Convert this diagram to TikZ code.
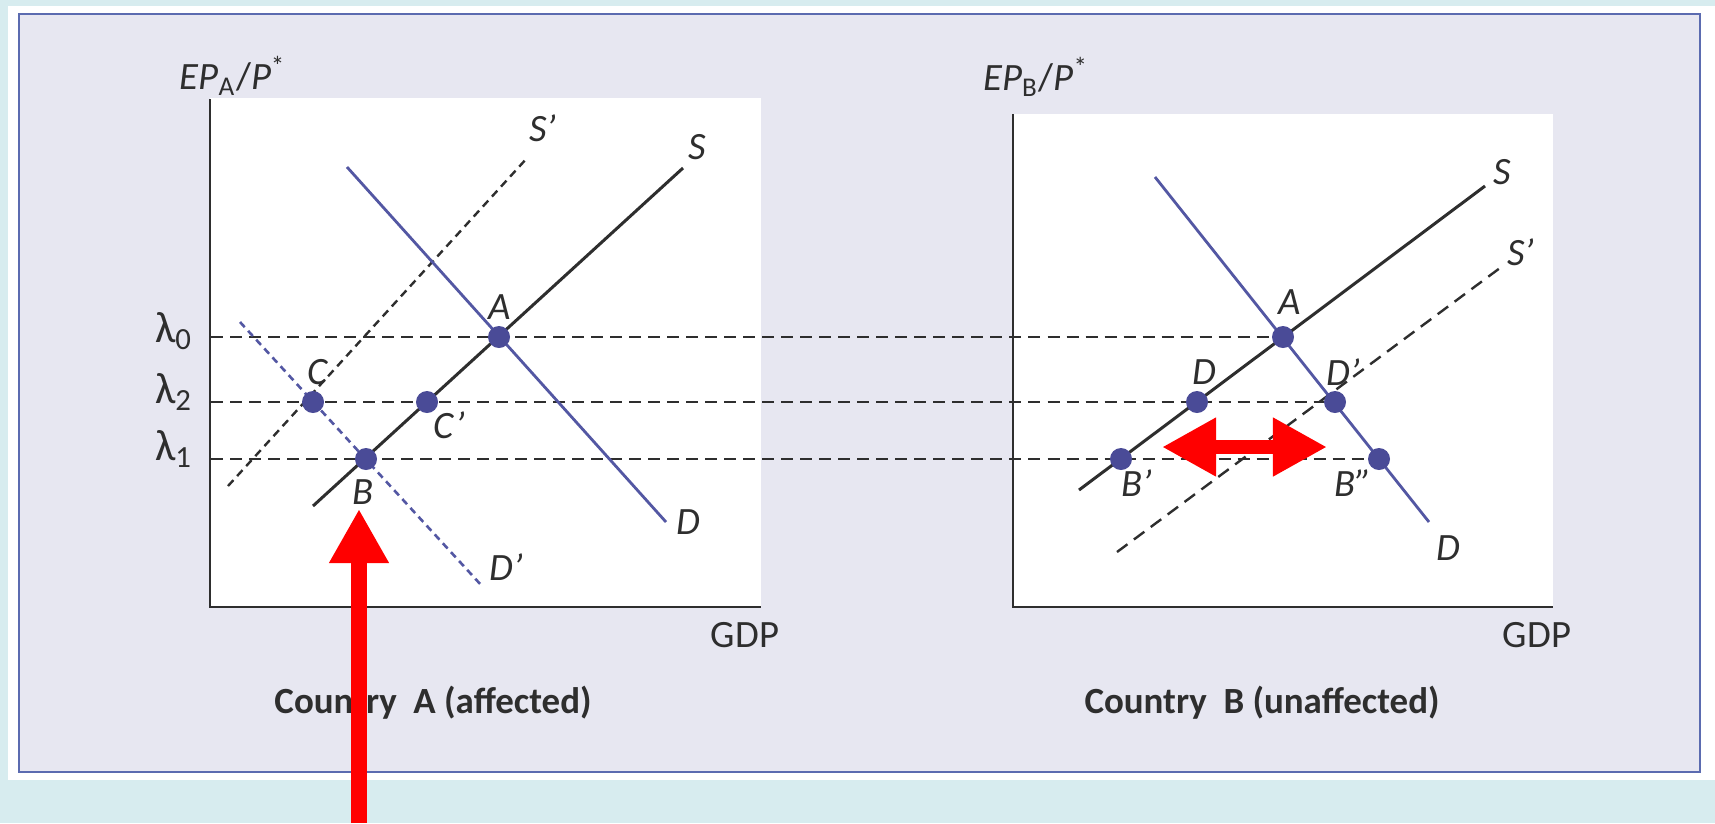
\documentclass[tikz,border=0pt]{standalone}
\usepackage{fontspec}
\setmainfont{Carlito}
\usepackage{xcolor}
\definecolor{pagebg}{HTML}{D7ECEF}
\definecolor{panelbg}{HTML}{E7E7F1}
\definecolor{frameblue}{HTML}{5B6BB0}
\definecolor{curveblue}{HTML}{5357A3}
\definecolor{dotblue}{HTML}{4A4B97}
\definecolor{ink}{HTML}{2E2E2E}
\definecolor{shock}{HTML}{FF0000}
\usepackage{tikz}
\usetikzlibrary{arrows.meta, positioning, calc}

\begin{document}
\begin{tikzpicture}[x=0.01cm, y=-0.01cm,
  axisline/.style={draw=ink, line width=0.024cm},
  supply/.style={draw=ink, line width=0.03cm},
  supplyshift/.style={draw=ink, line width=0.024cm, dash pattern=on 0.08cm off 0.055cm},
  demand/.style={draw=curveblue, line width=0.028cm},
  demandshift/.style={draw=curveblue, line width=0.026cm, dash pattern=on 0.07cm off 0.05cm},
  guide/.style={draw=ink, line width=0.024cm, dash pattern=on 0.12cm off 0.07cm},
  eqdot/.style={circle, fill=dotblue, minimum size=0.22cm, inner sep=0pt},
  ptlabel/.style={font=\fontsize{11}{13}\selectfont\itshape, text=ink, inner sep=0pt},
  axislabel/.style={font=\fontsize{11}{13}\selectfont, text=ink, inner sep=0pt},
  caption/.style={font=\fontsize{10.5}{13}\selectfont\bfseries, text=ink, inner sep=0pt},
  shockarrow/.style={draw=shock, line width=0.16cm, -{Triangle[length=0.54cm, width=0.56cm]}},
  shiftarrow/.style={draw=shock, line width=0.14cm,
    {Triangle[length=0.54cm, width=0.55cm]}-{Triangle[length=0.54cm, width=0.55cm]}}]

  \useasboundingbox (0,0) rectangle (1715,823);
  \fill[pagebg] (0,0) rectangle (1715,823);
  \fill[white] (8,6) rectangle (1715,780);
  \filldraw[fill=panelbg, draw=frameblue, line width=0.02cm] (19,14) rectangle (1700,772);

  \fill[white] (210,98) rectangle (761,607);
  \fill[white] (1013,114) rectangle (1553,607);
  \draw[axisline] (210,99) -- (210,607) -- (761,607);
  \draw[axisline] (1013,114) -- (1013,607) -- (1553,607);

  \coordinate (lamzero) at (211,337);
  \coordinate (lamtwo) at (211,402);
  \coordinate (lamone) at (211,459);

  \coordinate (A1) at (499,337);
  \coordinate (C1) at (313,402);
  \coordinate (Cp1) at (427,402);
  \coordinate (B1) at (366,459);
  \coordinate (A2) at (1283,337);
  \coordinate (D2) at (1197,402);
  \coordinate (Dp2) at (1335,402);
  \coordinate (Bp2) at (1121,459);
  \coordinate (Bpp2) at (1379,459);

  \draw[guide] (lamzero) -- (A2);
  \draw[guide] (lamtwo) -- (Dp2);
  \draw[guide] (lamone) -- (Bpp2);

  \draw[supplyshift] (228,486) -- (528,157);
  \draw[supply] (313,506) -- (683,168);
  \draw[demand] (347,167) -- (666,522);
  \draw[demandshift] (240,322) -- (482,586);

  \draw[supply] (1079,490) -- (1485,186);
  \draw[supplyshift, dash pattern=on 0.13cm off 0.08cm] (1117,552) -- (1504,265);
  \draw[demand] (1155,177) -- (1429,522);

  \node[eqdot] (dotA1) at (A1) {};
  \node[eqdot] (dotC1) at (C1) {};
  \node[eqdot] (dotCp1) at (Cp1) {};
  \node[eqdot] (dotB1) at (B1) {};
  \node[eqdot] (dotA2) at (A2) {};
  \node[eqdot] (dotD2) at (D2) {};
  \node[eqdot] (dotDp2) at (Dp2) {};
  \node[eqdot] (dotBp2) at (Bp2) {};
  \node[eqdot] (dotBpp2) at (Bpp2) {};

  \node[ptlabel] (labSp1) at (543,128) {S'};
  \node[ptlabel] (labS1) at (697,147) {S};
  \node[ptlabel] (labA1) at (500,307) {A};
  \node[ptlabel] (labC1) at (318,372) {C};
  \node[ptlabel] (labCp1) at (449,425) {C'};
  \node[ptlabel] (labB1) at (363,492) {B};
  \node[ptlabel] (labD1) at (688,522) {D};
  \node[ptlabel] (labDp1) at (506,567) {D'};

  \node[ptlabel] (labS2) at (1502,172) {S};
  \node[ptlabel] (labSp2) at (1521,252) {S'};
  \node[ptlabel] (labA2) at (1290,302) {A};
  \node[ptlabel] (labD2) at (1204,372) {D};
  \node[ptlabel] (labDp2) at (1343,372) {D'};
  \node[ptlabel] (labBp2) at (1137,483) {B'};
  \node[ptlabel] (labBpp2) at (1353,483) {B''};
  \node[ptlabel] (labDd2) at (1448,548) {D};

  \node[axislabel] (lab0) at (174,331) {\fontsize{12.5}{14}\selectfont λ\textsubscript{0}};
  \node[axislabel] (lab2) at (174,392) {\fontsize{12.5}{14}\selectfont λ\textsubscript{2}};
  \node[axislabel] (lab1) at (174,449) {\fontsize{12.5}{14}\selectfont λ\textsubscript{1}};

  \node[axislabel] (yaxA) at (233,76) {\textit{EP}\textsubscript{A}/\textit{P}\textsuperscript{*}};
  \node[axislabel] (yaxB) at (1036,77) {\textit{EP}\textsubscript{B}/\textit{P}\textsuperscript{*}};
  \node[axislabel] (xaxA) at (745,635) {GDP};
  \node[axislabel] (xaxB) at (1537,635) {GDP};
  \node[caption] (capA) at (433,703) {Country\ \ A (affected)};
  \node[caption] (capB) at (1262,703) {Country\ \ B (unaffected)};

  \coordinate (shockfoot) at (359,823);
  \coordinate (shocktip) at (359,509);
  \coordinate (shiftleft) at (1162,447);
  \coordinate (shiftright) at (1327,447);
  \draw[shockarrow] (shockfoot) -- (shocktip);
  \draw[shiftarrow] (shiftleft) -- (shiftright);

\end{tikzpicture}
\end{document}
